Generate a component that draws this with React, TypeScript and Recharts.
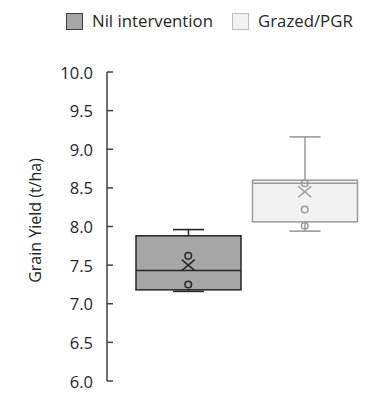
import React from 'react';
import { ComposedChart, Bar, Scatter, XAxis, YAxis } from 'recharts';

// ---- data ----
const categories = ['Nil intervention', 'Grazed/PGR'];
const whiskerLow = [7.16, 7.94];
const q1 = [7.18, 8.06];
const median = [7.43, 8.56];
const q3 = [7.88, 8.6];
const whiskerHigh = [7.96, 9.16];
const means = [7.5, 8.45];
const pointsNil = [7.62, 7.25];
const pointsGrazed = [8.56, 8.22, 8.01];
const yTicks = [6.0, 6.5, 7.0, 7.5, 8.0, 8.5, 9.0, 9.5, 10.0];

// ---- styles ----
const FONT = '"Open Sans", sans-serif';
const TEXT = '#262626';
const FILLS = ['#a6a6a6', '#f2f2f2'];
const STROKES = ['#262626', '#9a9a9a'];

const rows = categories.map((cat, i) => ({
  cat,
  idx: i,
  box: [q1[i], q3[i]],
  lo: whiskerLow[i],
  hi: whiskerHigh[i],
  q1: q1[i],
  q3: q3[i],
  med: median[i],
}));

const meanData = categories.map((cat, i) => ({ cat, v: means[i], idx: i }));
const nilPts = pointsNil.map((v) => ({ cat: categories[0], v, idx: 0 }));
const grazedPts = pointsGrazed.map((v) => ({ cat: categories[1], v, idx: 1 }));

const BoxShape = (props: any) => {
  const { x, y, width, height, payload } = props;
  const i = payload.idx;
  const ppu = height / (payload.q3 - payload.q1);
  const yOf = (v: number) => y + (payload.q3 - v) * ppu;
  const cx = x + width / 2;
  const capW = 31;
  const stroke = STROKES[i];
  return (
    <g>
      <line x1={cx} x2={cx} y1={yOf(payload.hi)} y2={yOf(payload.lo)} stroke={stroke} strokeWidth={1.5} />
      <line x1={cx - capW / 2} x2={cx + capW / 2} y1={yOf(payload.hi)} y2={yOf(payload.hi)} stroke={stroke} strokeWidth={1.6} />
      <line x1={cx - capW / 2} x2={cx + capW / 2} y1={yOf(payload.lo)} y2={yOf(payload.lo)} stroke={stroke} strokeWidth={1.6} />
      <rect x={x} y={y} width={width} height={height} fill={FILLS[i]} stroke={stroke} strokeWidth={1.5} />
      <line x1={x} x2={x + width} y1={yOf(payload.med)} y2={yOf(payload.med)} stroke={stroke} strokeWidth={1.5} />
    </g>
  );
};

const CircleShape = (props: any) => {
  const { cx, cy, payload } = props;
  const i = payload.idx;
  return <circle cx={cx} cy={cy} r={3.3} fill="none" stroke={STROKES[i]} strokeWidth={1.5} />;
};

const CrossShape = (props: any) => {
  const { cx, cy, payload } = props;
  const i = payload.idx;
  const w = 6.5;
  const h = 5.5;
  return (
    <g stroke={STROKES[i]} strokeWidth={1.5}>
      <line x1={cx - w} y1={cy - h} x2={cx + w} y2={cy + h} />
      <line x1={cx - w} y1={cy + h} x2={cx + w} y2={cy - h} />
    </g>
  );
};

const TICK_SIZE = 6;
const TICK_MARGIN = 8;

const YTick = (props: any) => {
  const { x, y, payload } = props;
  const axisX = x + TICK_SIZE + TICK_MARGIN;
  return (
    <g>
      <text x={x} y={y} textAnchor="end" dominantBaseline="central" fill={TEXT} fontFamily={FONT} fontSize={16.5}>
        {Number(payload.value).toFixed(1)}
      </text>
      <line x1={axisX} x2={axisX + 6} y1={y} y2={y} stroke="#404040" strokeWidth={1.5} />
    </g>
  );
};

const YLabel = (props: any) => {
  const vb = props.viewBox || { x: 0, y: 72, width: 107, height: 309 };
  const cx = 35;
  const cy = vb.y + vb.height / 2 - 6;
  return (
    <text
      x={cx}
      y={cy}
      transform={`rotate(-90, ${cx}, ${cy})`}
      textAnchor="middle"
      dominantBaseline="central"
      fill={TEXT}
      fontFamily={FONT}
      fontSize={16}
    >
      Grain Yield (t/ha)
    </text>
  );
};

const LegendItem = ({ label, i, left }: { label: string; i: number; left: number }) => (
  <div style={{ position: 'absolute', left, top: 12, display: 'flex', alignItems: 'center' }}>
    <div
      style={{
        width: 15,
        height: 15,
        background: FILLS[i],
        border: `1.5px solid ${i === 0 ? '#404040' : '#bdbdbd'}`,
        marginRight: 9,
      }}
    />
    <span style={{ fontFamily: FONT, fontSize: 16.8, color: TEXT, lineHeight: '18px', whiteSpace: 'nowrap' }}>{label}</span>
  </div>
);

export default function App() {
  return (
    <div style={{ position: 'absolute', left: 0, top: 0, width: 381, height: 393, background: '#fff' }}>
      <LegendItem label={categories[0]} i={0} left={66} />
      <LegendItem label={categories[1]} i={1} left={232} />
      <ComposedChart
        width={381}
        height={393}
        data={rows}
        margin={{ top: 72, right: 18, bottom: 12, left: 0 }}
        barSize={105}
      >
        <XAxis
          dataKey="cat"
          type="category"
          hide
          allowDuplicatedCategory={false}
          padding={{ left: 23, right: 0 }}
        />
        <YAxis
          type="number"
          domain={[6, 10]}
          ticks={yTicks}
          interval={0}
          width={107}
          tickSize={TICK_SIZE}
          tickMargin={TICK_MARGIN}
          tickLine={false}
          axisLine={{ stroke: '#404040', strokeWidth: 1.5 }}
          tick={<YTick />}
          label={<YLabel />}
          allowDataOverflow
        />
        <Bar dataKey="box" shape={<BoxShape />} isAnimationActive={false} />
        <Scatter data={nilPts} dataKey="v" shape={<CircleShape />} isAnimationActive={false} />
        <Scatter data={grazedPts} dataKey="v" shape={<CircleShape />} isAnimationActive={false} />
        <Scatter data={meanData} dataKey="v" shape={<CrossShape />} isAnimationActive={false} />
      </ComposedChart>
    </div>
  );
}
